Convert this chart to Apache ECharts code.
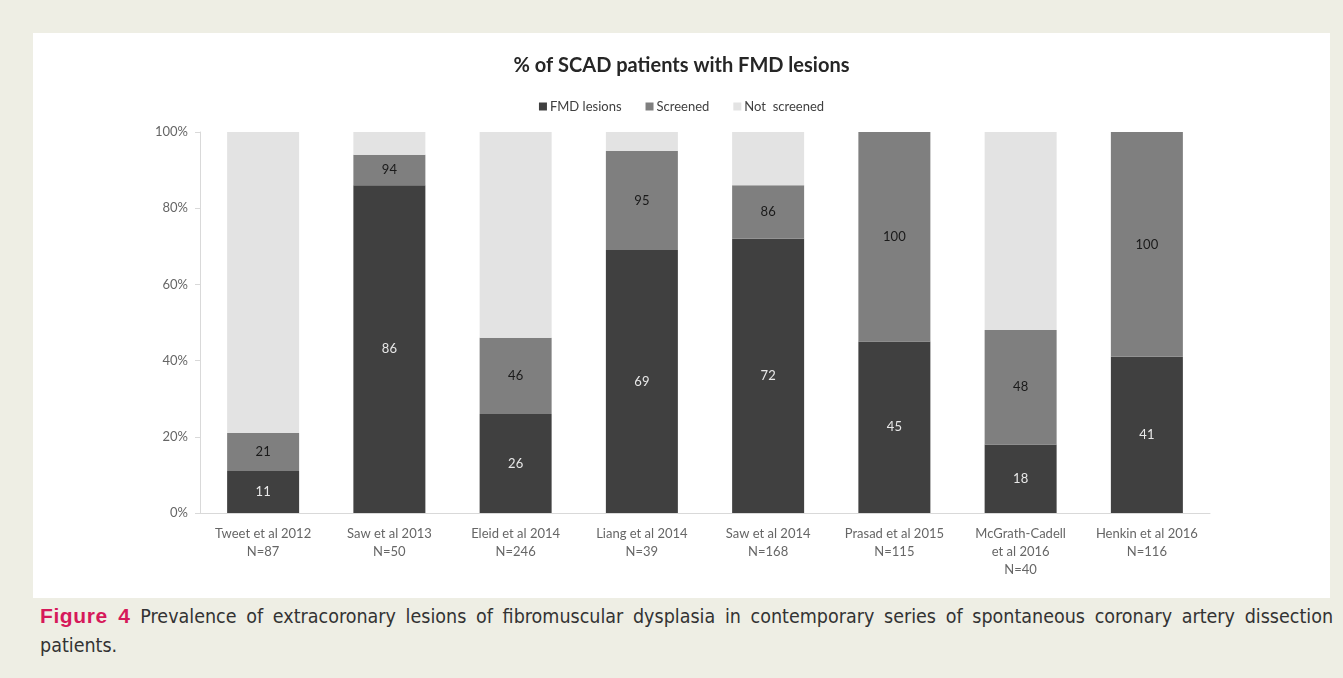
<!DOCTYPE html>
<html>
<head>
<meta charset="utf-8">
<script src="https://cdn.jsdelivr.net/npm/echarts@6/dist/echarts.min.js"></script>
<style>
  html, body { margin: 0; padding: 0; }
  body { width: 1343px; height: 678px; background: #eeeee4; position: relative; overflow: hidden; }
  #chart { position: absolute; left: 33px; top: 33px; width: 1297px; height: 565px; background: #fff; }
  .caption {
    position: absolute; left: 40px; top: 601px; width: 1293px;
    font-family: "Liberation Sans Narrow", "DejaVu Sans Condensed", sans-serif;
    font-size: 19.5px; line-height: 29px; color: #333; text-align: justify; text-align-last: left;
  }
  .caption b { color: #d6195a; font-family: "Liberation Sans", sans-serif; font-size: 21px; letter-spacing: 0.6px; }
</style>
</head>
<body>
<div id="chart"></div>
<div class="caption"><b>Figure 4</b> Prevalence of extracoronary lesions of fibromuscular dysplasia in contemporary series of spontaneous coronary artery dissection patients.</div>
<script>
// studies
const studies = [
  "Tweet et al 2012\nN=87",
  "Saw et al 2013\nN=50",
  "Eleid et al 2014\nN=246",
  "Liang et al 2014\nN=39",
  "Saw et al 2014\nN=168",
  "Prasad et al 2015\nN=115",
  "McGrath-Cadell\net al 2016\nN=40",
  "Henkin et al 2016\nN=116"
];
// % with FMD lesions
const fmdLesions = [11, 86, 26, 69, 72, 45, 18, 41];
// % screened (cumulative, as labelled)
const screenedTotal = [21, 94, 46, 95, 86, 100, 48, 100];
const yTicks = [0, 20, 40, 60, 80, 100];

const screenedPart = screenedTotal.map((v, i) => v - fmdLesions[i]);
const notScreened = screenedTotal.map(v => 100 - v);

const chart = echarts.init(document.getElementById("chart"));
const font = "Lato, 'Open Sans', sans-serif";

const option = {
  animation: false,
  title: {
    text: "% of SCAD patients with FMD lesions",
    left: "center",
    top: 18,
    textStyle: { fontFamily: font, fontSize: 20, fontWeight: "bold", color: "#262626" }
  },
  legend: {
    top: 62,
    left: "center",
    itemWidth: 8,
    itemHeight: 8,
    itemGap: 24,
    icon: "rect",
    textStyle: { fontFamily: font, fontSize: 13, color: "#404040", padding: [0, 0, 0, -2] },
    data: ["FMD lesions", "Screened", "Not  screened"]
  },
  grid: { left: 167, right: 120, top: 99, bottom: 85 },
  xAxis: {
    type: "category",
    data: studies,
    axisLine: { lineStyle: { color: "#d9d9d9" } },
    axisTick: { show: false },
    axisLabel: { fontFamily: font, fontSize: 13, color: "#666", lineHeight: 18, margin: 12, interval: 0 }
  },
  yAxis: {
    type: "value",
    min: 0,
    max: 100,
    interval: 20,
    axisLine: { show: true, lineStyle: { color: "#d9d9d9" } },
    axisTick: { show: true, length: 5, inside: false, lineStyle: { color: "#d9d9d9" } },
    splitLine: { show: false },
    axisLabel: {
      fontFamily: font, fontSize: 13, color: "#666", margin: 12,
      formatter: v => yTicks.includes(v) ? v + "%" : ""
    }
  },
  series: [
    {
      name: "FMD lesions",
      type: "bar",
      stack: "all",
      barWidth: 72,
      data: fmdLesions,
      itemStyle: { color: "#404040" },
      label: { show: true, position: "inside", color: "#e8e8e8", fontFamily: font, fontSize: 13 }
    },
    {
      name: "Screened",
      type: "bar",
      stack: "all",
      data: screenedPart,
      itemStyle: { color: "#7f7f7f" },
      label: {
        show: true, position: "inside", color: "#1a1a1a", fontFamily: font, fontSize: 13,
        formatter: p => screenedTotal[p.dataIndex]
      }
    },
    {
      name: "Not  screened",
      type: "bar",
      stack: "all",
      data: notScreened,
      itemStyle: { color: "#e3e3e3" }
    }
  ]
};

chart.setOption(option);
</script>
</body>
</html>
